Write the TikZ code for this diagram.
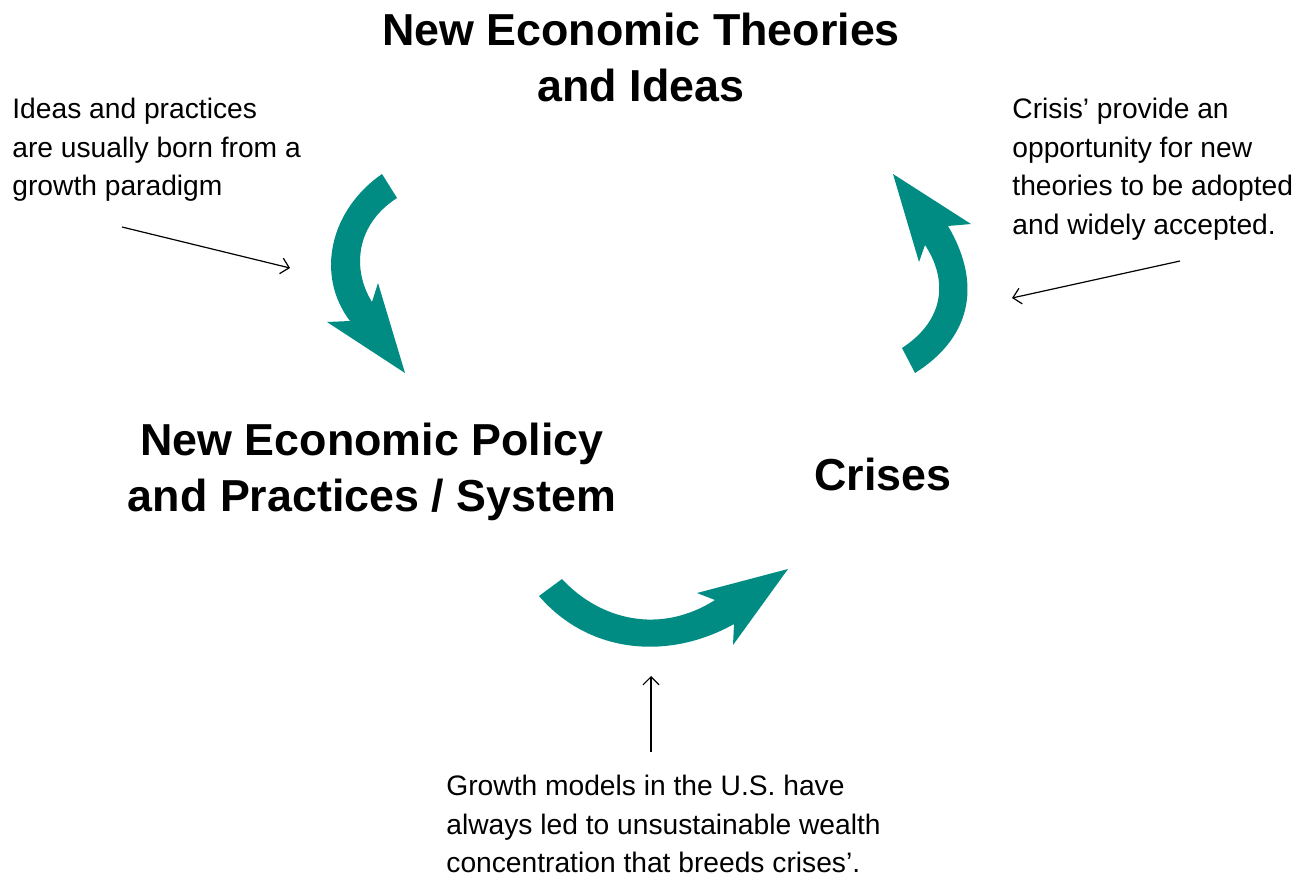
\documentclass[tikz,border=0pt]{standalone}
\usepackage{fontspec}
\setmainfont{Liberation Sans}
\usetikzlibrary{arrows.meta}
\definecolor{sea}{RGB}{0,140,130}

\begin{document}
\begin{tikzpicture}[x=0.5pt, y=-0.5pt,
    big/.style={font=\fontsize{22.4}{28}\selectfont\bfseries,align=center,inner sep=0pt},
    note/.style={font=\fontsize{14.1}{19.25}\selectfont,align=left,anchor=north west,inner sep=0pt},
    flow/.style={fill=sea,draw=none},
    ptr/.style={-{Straight Barb[length=4pt,width=8pt]},line width=0.6pt}]
  \useasboundingbox (0,0) rectangle (1315,888);
  % main labels
  \node[big] (theo) at (641,57)  {New Economic Theories\\and Ideas};
  \node[big] (pol)  at (372,472) {New Economic Policy\\and Practices / System};
  \node[big] (cri)  at (883,474) {Crises};
  % notes
  \node[note] (n1) at (12,98)   {Ideas and practices\\are usually born from a\\growth paradigm};
  \node[note] (n2) at (1012,98) {Crisis’ provide an\\opportunity for new\\theories to be adopted\\and widely accepted.};
  \node[note] (n3) at (446,775) {Growth models in the U.S. have\\always led to unsustainable wealth\\concentration that breeds crises’.};
  % curved flow arrows
  \fill[flow] (382,174) .. controls (330,210) and (315,275) .. (350,321) -- (327,322) -- (405,373)
    -- (378,283) -- (372,302) .. controls (352,270) and (355,225) .. (397,198) -- cycle;
  \fill[flow] (893,174) -- (919,262) -- (925,245) .. controls (948,280) and (945,320) .. (902,348)
    -- (915,373) .. controls (975,335) and (980,280) .. (948,226) -- (971,224) -- cycle;
  \fill[flow] (562,579) .. controls (600,620) and (660,635) .. (715,600) -- (697,593) -- (788,569)
    -- (733,645) -- (734,624) .. controls (670,660) and (590,655) .. (539,596) -- cycle;
  % pointers
  \coordinate (p1a) at (122,227); \coordinate (p1b) at (290,268);
  \coordinate (p2a) at (1180,261); \coordinate (p2b) at (1012,298);
  \coordinate (p3a) at (651,752); \coordinate (p3b) at (651,676);
  \draw[ptr] (p1a) -- (p1b);
  \draw[ptr] (p2a) -- (p2b);
  \draw[ptr] (p3a) -- (p3b);
\end{tikzpicture}
\end{document}
